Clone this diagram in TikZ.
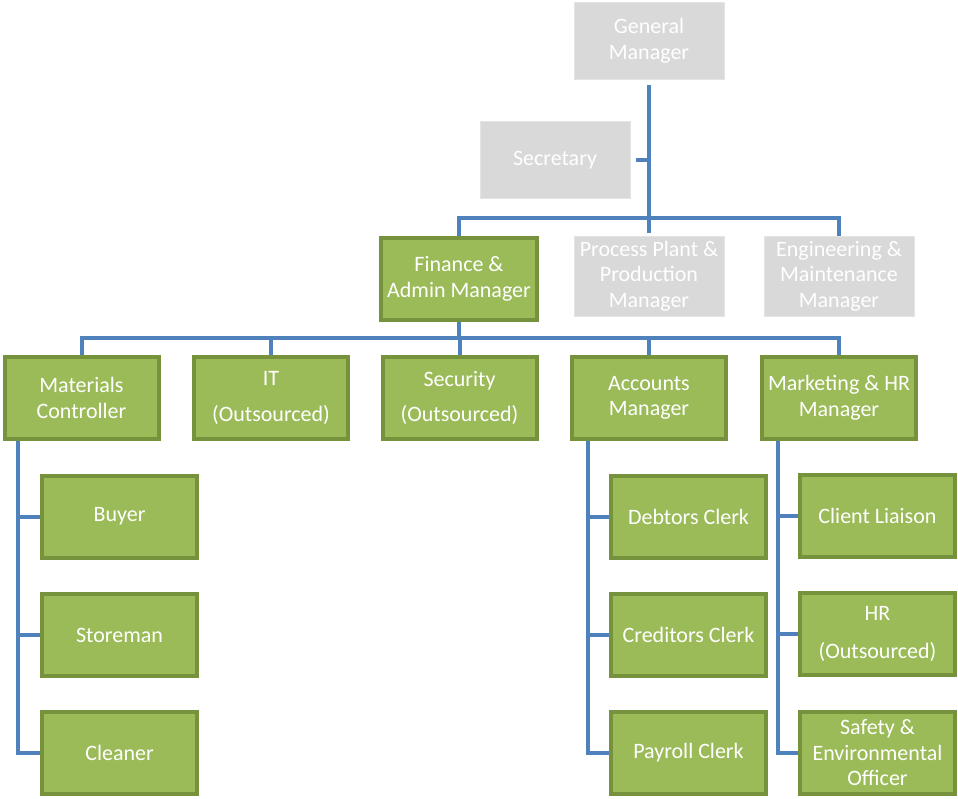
\documentclass[tikz,border=0pt]{standalone}
\usepackage{fontspec}
\setmainfont{Carlito}
\definecolor{linkblue}{HTML}{4F81BD}
\definecolor{boxfill}{HTML}{9BBB59}
\definecolor{boxedge}{HTML}{76923C}
\definecolor{greyfill}{HTML}{D9D9D9}
\begin{document}
\begin{tikzpicture}[x=1pt,y=-1pt,
  lbl/.style={text=white, inner sep=0pt, align=center, font=\fontsize{22}{25.5}\selectfont},
  greenbox/.style={lbl, draw=boxedge, line width=4pt, fill=boxfill, minimum width=155pt, minimum height=82pt},
  greybox/.style={lbl, fill=greyfill, draw=greyfill!70!white, line width=0.8pt, minimum width=150pt, minimum height=77pt},
  link/.style={draw=linkblue, line width=4pt}]
\useasboundingbox (0,0) rectangle (958,799);

% top management (greyed out)
\node[greybox] (gm)   at (649,41)  {General\\Manager};
\node[greybox] (sec)  at (555,160) {Secretary};
\node[greybox, minimum height=80pt] (proc) at (649,276) {Process Plant \&\\Production\\Manager};
\node[greybox, minimum height=80pt] (eng)  at (839,276) {Engineering \&\\Maintenance\\Manager};
\node[greenbox, minimum width=156pt] (fin) at (459,279) {Finance \&\\Admin Manager};

% second level
\node[greenbox, minimum width=154pt] (mat) at (81.5,398) {Materials\\Controller};
\node[greenbox, minimum width=154pt] (it)  at (271,398)  {IT\\[10pt](Outsourced)};
\node[greenbox, minimum width=154pt] (secu) at (459.5,398) {Security\\[10pt](Outsourced)};
\node[greenbox, minimum width=154pt] (acc) at (649,398)  {Accounts\\Manager};
\node[greenbox, minimum width=154pt] (mkt) at (839,398)  {Marketing \& HR\\Manager};

% staff under the materials controller
\node[greenbox] (buyer) at (119.5,516.5) {Buyer};
\node[greenbox] (store) at (119.5,635)   {Storeman};
\node[greenbox] (clean) at (119.5,753)   {Cleaner};

% staff under the accounts manager
\node[greenbox] (debt) at (688.5,517) {Debtors Clerk};
\node[greenbox] (cred) at (688.5,635) {Creditors Clerk};
\node[greenbox] (pay)  at (688.5,753) {Payroll Clerk};

% staff under the marketing & HR manager
\node[greenbox] (client) at (877.5,516) {Client Liaison};
\node[greenbox] (hr)     at (877.5,634) {HR\\[12pt](Outsourced)};
\node[greenbox] (safe)   at (877.5,753) {Safety \&\\Environmental\\Officer};

% bus lines and rails
\coordinate (bus1) at (0,218);
\coordinate (bus2) at (0,338);
\coordinate (railm) at (18,0);
\coordinate (raila) at (588,0);
\coordinate (railk) at (778,0);

\draw[link, shorten <=5pt, shorten >=3pt] (gm.south) -- (proc.north);
\draw[link, shorten <=6pt] (sec.east) -- (sec.east -| gm.south);
\draw[link] (fin.north) -- (fin.north |- bus1) -| (eng.north);

\draw[link] (fin.south) -- (fin.south |- bus2);
\draw[link] (mat.north) -- (mat.north |- bus2) -| (mkt.north);
\draw[link] (it.north) -- (it.north |- bus2);
\draw[link] (secu.north) -- (secu.north |- bus2);
\draw[link] (acc.north) -- (acc.north |- bus2);

\draw[link] (mat.south -| railm) |- (clean.west);
\draw[link] (buyer.west) -- (buyer.west -| railm);
\draw[link] (store.west) -- (store.west -| railm);

\draw[link] (acc.south -| raila) |- (pay.west);
\draw[link] (debt.west) -- (debt.west -| raila);
\draw[link] (cred.west) -- (cred.west -| raila);

\draw[link] (mkt.south -| railk) |- (safe.west);
\draw[link] (client.west) -- (client.west -| railk);
\draw[link] (hr.west) -- (hr.west -| railk);
\end{tikzpicture}
\end{document}
